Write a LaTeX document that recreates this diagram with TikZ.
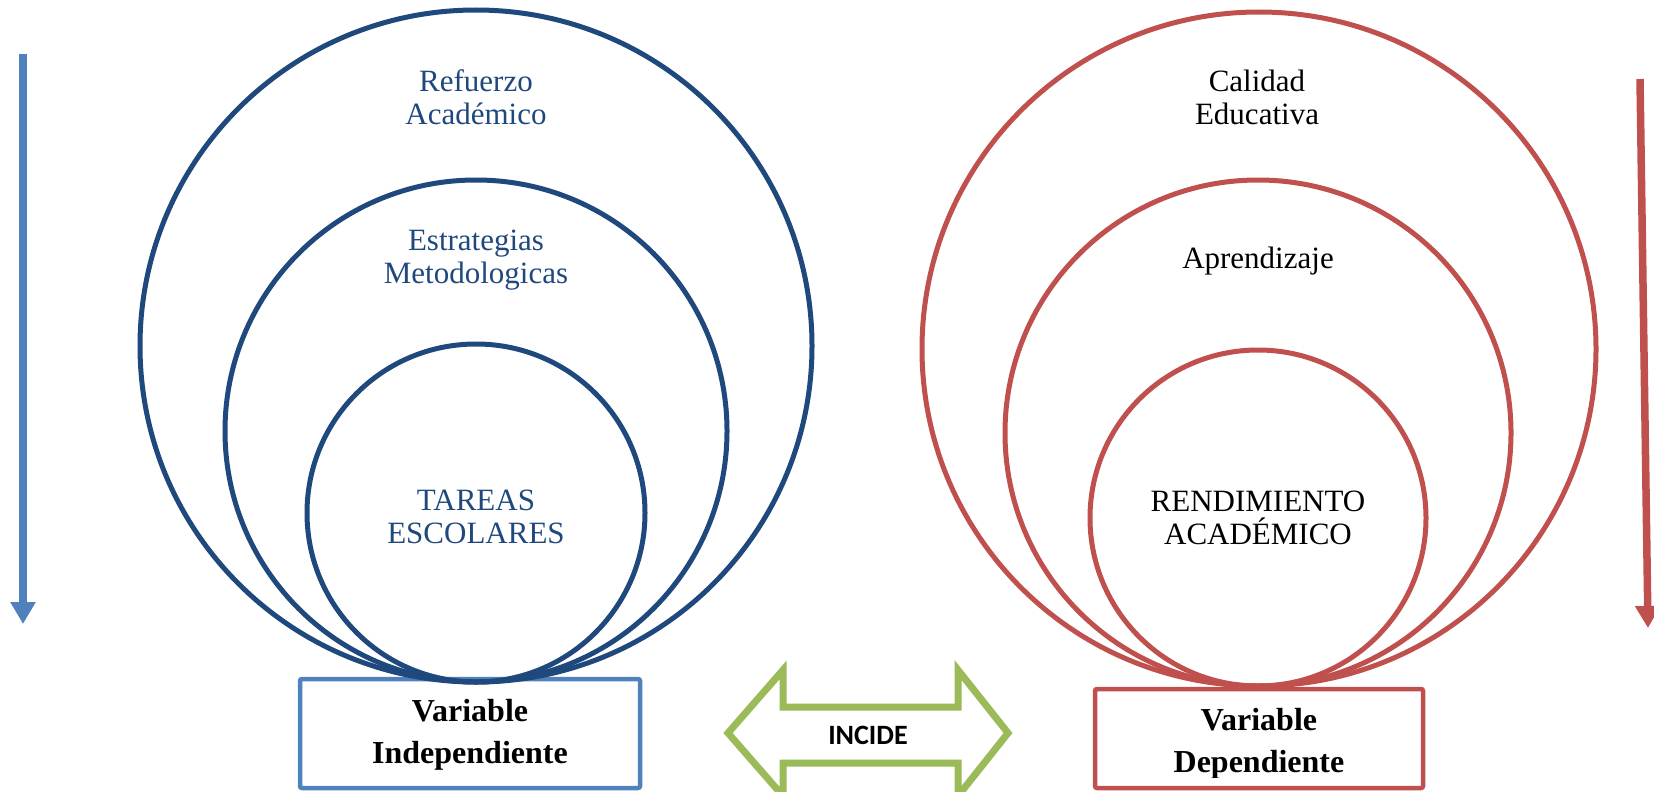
\documentclass[tikz,border=0pt]{standalone}
\usepackage{fontspec}
\setmainfont{Liberation Serif}
\newfontfamily\calibri{Carlito}
\definecolor{darkblue}{HTML}{1F497D}
\definecolor{accblue}{HTML}{4F81BD}
\definecolor{accred}{HTML}{C0504D}
\definecolor{accgreen}{HTML}{9BBB59}
\usetikzlibrary{arrows.meta}
\tikzset{
  ring/.style={circle, line width=5pt, inner sep=0pt},
  lbl/.style={align=center, font=\fontsize{31}{33}\selectfont, inner sep=0pt},
  varbox/.style={line width=4.5pt, rounded corners=2pt},
  vartext/.style={align=center, font=\fontsize{32}{42}\selectfont\bfseries, inner sep=0pt},
  sidearrow/.style={line width=7.5pt, -{Triangle[length=22pt,width=24pt]}},
}
\begin{document}
\begin{tikzpicture}[x=1pt,y=-1pt]
\useasboundingbox[fill=white] (0,0) rectangle (1654,792);

% side arrows
\coordinate (la1) at (23,54);
\coordinate (la2) at (23,624);
\draw[sidearrow, accblue] (la1) -- (la2);
\coordinate (ra1) at (1640,79);
\coordinate (ra2) at (1648,628);
\draw[sidearrow, accred] (ra1) -- (ra2);

% boxes
\draw[varbox, draw=accblue] (300,679) rectangle (640,788);
\node[vartext] (vi) at (470,735) {Variable\\Independiente};
\draw[varbox, draw=accred] (1095,689) rectangle (1423,788);
\begin{scope}
\clip (1095,689) rectangle (1423,777);
\node[vartext] (vd) at (1259,744) {Variable\\Dependiente};
\end{scope}

% left circles
\node[ring, draw=darkblue, minimum size=672pt] (lo) at (476,346) {};
\node[ring, draw=darkblue, minimum size=502pt] (lm) at (476,431) {};
\node[ring, draw=darkblue, minimum size=338pt] (li) at (476,513) {};
\node[lbl, text=darkblue] (t1) at (476,97) {Refuerzo\\Académico};
\node[lbl, text=darkblue] (t2) at (476,260) {Estrategias\\Metodologicas};
\node[lbl, text=darkblue] (t3) at (476,517) {TAREAS\\ESCOLARES};

% right circles
\node[ring, draw=accred, minimum size=674pt] (ro) at (1259,349) {};
\node[ring, draw=accred, minimum size=506pt] (rm) at (1258,433) {};
\node[ring, draw=accred, minimum size=336pt] (ri) at (1258,518) {};
\node[lbl] (u1) at (1257,97) {Calidad\\Educativa};
\node[lbl] (u2) at (1258,261) {Aprendizaje};
\node[lbl] (u3) at (1258,518) {RENDIMIENTO\\ACADÉMICO};

% INCIDE double arrow
\draw[accgreen, line width=7pt, line join=miter, fill=white]
  (728,733) -- (783,670) -- (783,707) -- (958,707) -- (958,670) -- (1008,733)
  -- (958,796) -- (958,763) -- (783,763) -- (783,796) -- cycle;
\node[font=\calibri\bfseries\fontsize{28}{30}\selectfont, inner sep=0pt] (inc) at (868,735) {INCIDE};
\end{tikzpicture}
\end{document}
